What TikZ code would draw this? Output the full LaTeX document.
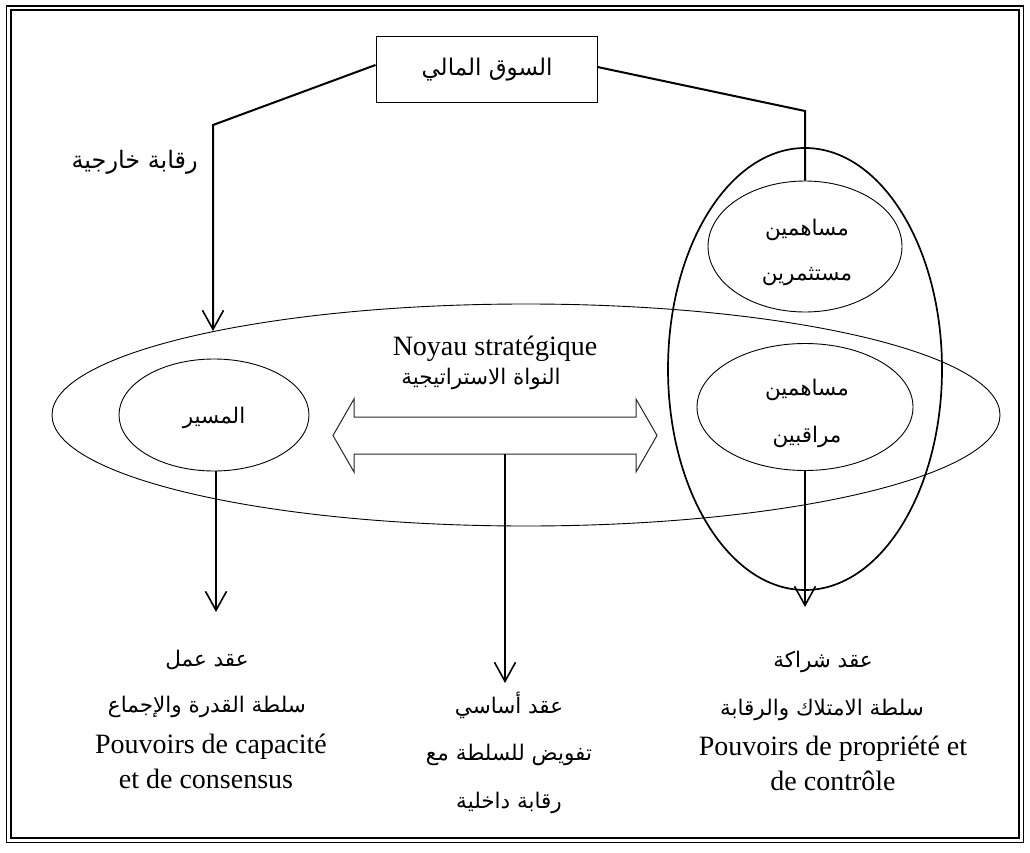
\documentclass[tikz,border=0pt]{standalone}
\usepackage{fontspec}
\setmainfont{Liberation Serif}
\newfontfamily\arabicfont[Script=Arabic]{DejaVu Sans}
\TeXXeTstate=1
\usetikzlibrary{arrows.meta,shapes.geometric}
\newcommand{\artext}[1]{{\arabicfont\beginR #1\endR}}

\begin{document}
\begin{tikzpicture}[x=1pt,y=-1pt,
  latin/.style={inner sep=0pt, font=\fontsize{28}{32}\selectfont},
  arab/.style={inner sep=0pt, font=\arabicfont\fontsize{21.5}{25}\selectfont},
  conn/.style={line width=2pt},
  downarrow/.style={-{Straight Barb[length=19pt,width=21pt,line width=1.6pt]}},
  oval/.style={ellipse, draw, line width=0.9pt, inner sep=0pt},
]
\useasboundingbox (0,0) rectangle (1030,853);

% page frame
\draw[line width=1.5pt] (6.5,6) rectangle (1023.5,842.5);
\draw[line width=2pt] (11,10.5) rectangle (1019,838.3);

% financial market box
\node[draw, line width=1pt, minimum width=221pt, minimum height=66pt, inner sep=0pt]
  (market) at (486.5,70) {};
\node[arab, font=\arabicfont\fontsize{23}{26}\selectfont] (marketlbl) at (487,70) {\artext{السوق المالي}};

% strategic core and the actors
\node[oval, minimum width=948pt, minimum height=222pt] (core) at (526,415) {};
\node[ellipse, draw, line width=1.7pt, inner sep=0pt, minimum width=274pt, minimum height=442pt] (holders) at (805,369) {};
\node[oval, minimum width=194pt, minimum height=131pt] (investors) at (805,246.5) {};
\node[oval, minimum width=216pt, minimum height=127pt] (controllers) at (805,407) {};
\node[oval, minimum width=190pt, minimum height=112pt] (manager) at (214,415) {};

\node[arab] (inv1) at (807,230) {\artext{مساهمين}};
\node[arab] (inv2) at (807,277) {\artext{مستثمرين}};
\node[arab] (ctl1) at (807,390) {\artext{مساهمين}};
\node[arab] (ctl2) at (807,437) {\artext{مراقبين}};
\node[arab] (mgr) at (214,418) {\artext{المسير}};

\node[latin] (core1) at (495,349) {Noyau stratégique};
\node[arab] (core2) at (481,379) {\artext{النواة الاستراتيجية}};

% two-way arrow between manager and shareholders
\draw[line width=1pt, black!85]
  (333,435.5) -- (354,399) -- (354,417) -- (636,417) -- (636,399) -- (657,435.5)
  -- (636,472) -- (636,454) -- (354,454) -- (354,472) -- cycle;
\coordinate (dab) at (505,454);

% external control from the market
\coordinate (lk) at (213,125);
\coordinate (coretop) at (213,331);
\node[arab, font=\arabicfont\fontsize{24}{28}\selectfont, anchor=east] (extlbl) at (198,162) {\artext{رقابة خارجية}};
\draw[conn, downarrow] ([yshift=5pt]market.west) -- (lk) -- (coretop);

\coordinate (rk) at (805,111);
\draw[conn] ([yshift=3pt]market.east) -- (rk) -- (investors.north);

% contracts
\coordinate (lend) at (216,612);
\coordinate (cend) at (505,683);
\coordinate (rend) at (805,607);
\draw[conn, downarrow] (manager.south -| lend) -- (lend);
\draw[conn, downarrow] (dab) -- (cend);
\draw[conn, downarrow] (controllers.south) -- (rend);

% left: employment contract
\node[arab] (l1) at (207,660) {\artext{عقد عمل}};
\node[arab] (l2) at (207,707) {\artext{سلطة القدرة والإجماع}};
\node[latin] (l3) at (211,747) {Pouvoirs de capacité};
\node[latin] (l4) at (206,779) {et de consensus};

% centre: basic contract
\node[arab] (c1) at (509,705) {\artext{عقد أساسي}};
\node[arab] (c2) at (509,755) {\artext{تفويض للسلطة مع}};
\node[arab] (c3) at (509,803) {\artext{رقابة داخلية}};

% right: partnership contract
\node[arab] (r1) at (823,662) {\artext{عقد شراكة}};
\node[arab] (r2) at (822,710) {\artext{سلطة الامتلاك والرقابة}};
\node[latin] (r3) at (833,749) {Pouvoirs de propriété et};
\node[latin] (r4) at (833,781) {de contrôle};
\end{tikzpicture}
\end{document}
